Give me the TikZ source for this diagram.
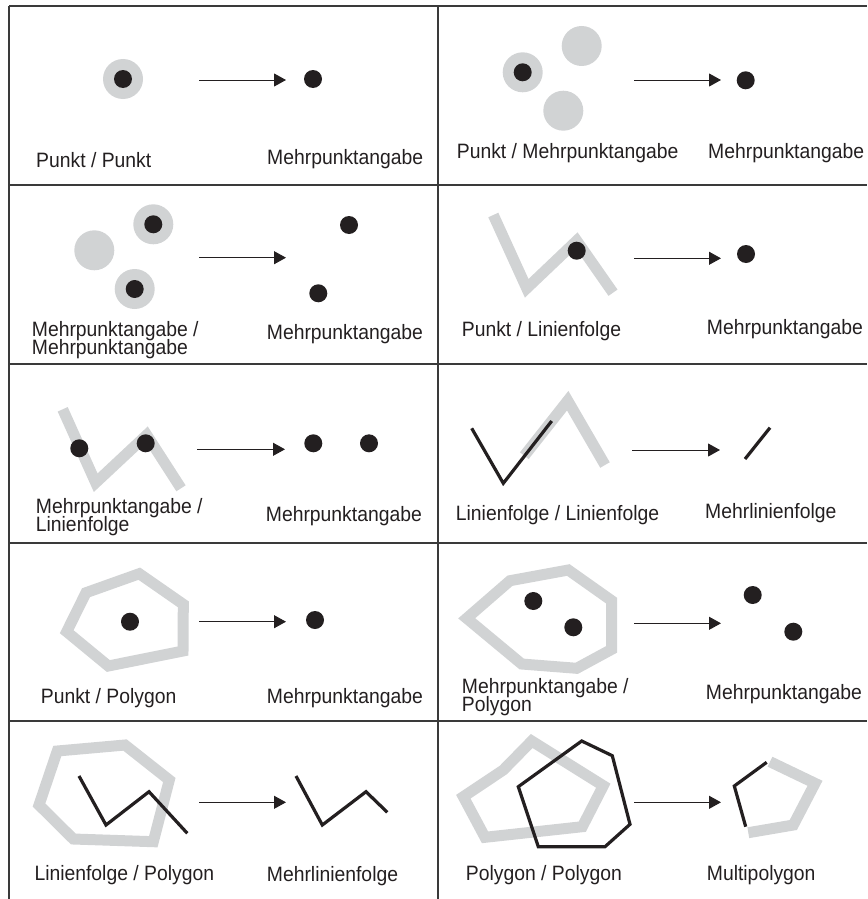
\documentclass[tikz,border=0pt]{standalone}
\usepackage{fontspec}
\setmainfont{Liberation Sans}
\newfontfamily\labfont[FakeStretch=0.93]{Liberation Sans}
\newcommand\tightlns{\lineskiplimit=-100pt\relax\lineskip=0pt\relax}
\usetikzlibrary{arrows.meta}
\definecolor{lgray}{HTML}{D1D3D4}
\definecolor{dk}{HTML}{231F20}
\definecolor{gridc}{HTML}{3A3A3A}
\begin{document}
\begin{tikzpicture}[x=1pt,y=-1pt,
 gridline/.style={draw=gridc, line width=1.4pt},
 dot/.style={circle,fill=dk,inner sep=0,minimum size=18pt},
 halo/.style={circle,fill=lgray,inner sep=0,minimum size=40pt},
 band/.style={draw=lgray,line width=11pt,line join=miter},
 blk/.style={draw=dk,line width=3.2pt,line join=miter},
 lab/.style={anchor=base west,inner sep=0,align=left,font=\labfont\fontsize{20.8}{17.8}\selectfont\tightlns,text=dk},
 arr/.style={draw=dk,line width=1pt,-{Triangle[length=12pt,width=13pt]}}]
\useasboundingbox (0,0) rectangle (867,899);
% grid
\coordinate (g1) at (9,6); \coordinate (g2) at (867,6);
\coordinate (g3) at (9,899); \coordinate (g4) at (438,6); \coordinate (g5) at (438,899);
\draw[gridline] (g1) -- (g2);
\draw[gridline] (g1) -- (g3);
\draw[gridline] (g4) -- (g5);
\foreach \yy in {185,364,543,721}{\draw[gridline] (9,\yy) -- (867,\yy);}

% ---- cell 1
\node[halo] (h1) at (123,79) {}; \node[dot] (d1) at (h1) {};
\coordinate (a1s) at (199,80); \coordinate (a1e) at (286,80); \draw[arr] (a1s) -- (a1e);
\node[dot] (r1) at (313,79) {};
\node[lab] (t1a) at (36,167) {Punkt / Punkt};
\node[lab] (t1b) at (267,164) {Mehrpunktangabe};

% ---- cell 2
\node[halo] (h2a) at (522.7,72.3) {}; \node[dot] (d2) at (h2a) {};
\node[halo] (h2b) at (581.7,46) {};
\node[halo] (h2c) at (563.3,110.7) {};
\coordinate (a2s) at (634,80); \coordinate (a2e) at (721,80); \draw[arr] (a2s) -- (a2e);
\node[dot] (r2) at (745.7,80.3) {};
\node[lab] (t2a) at (456.7,158) {Punkt / Mehrpunktangabe};
\node[lab] (t2b) at (708,158) {Mehrpunktangabe};

% ---- cell 3
\node[halo] (h3a) at (153.3,224.3) {}; \node[dot] (d3a) at (h3a) {};
\node[halo] (h3b) at (94.3,250.3) {};
\node[halo] (h3c) at (134.7,289) {}; \node[dot] (d3c) at (h3c) {};
\coordinate (a3s) at (199,257.7); \coordinate (a3e) at (286,257.7); \draw[arr] (a3s) -- (a3e);
\node[dot] (r3a) at (349,225) {};
\node[dot] (r3b) at (318.3,293.3) {};
\node[lab] (t3a) at (31.7,354) {Mehrpunktangabe /\\Mehrpunktangabe};
\node[lab] (t3c) at (266.7,339) {Mehrpunktangabe};

% ---- cell 4
\draw[band] (493.3,215) -- (526.7,288.3) -- (576.7,240.7) -- (613,292.7);
\node[dot] (d4) at (576.7,250.7) {};
\coordinate (a4s) at (634,258.3); \coordinate (a4e) at (721,258.3); \draw[arr] (a4s) -- (a4e);
\node[dot] (r4) at (746,254) {};
\node[lab] (t4a) at (461.7,336.7) {Punkt / Linienfolge};
\node[lab] (t4b) at (706.7,334) {Mehrpunktangabe};

% ---- cell 5
\draw[band] (62.7,409.3) -- (95.7,482.7) -- (146.7,435) -- (181,488.3);
\node[dot] (d5a) at (79.3,448.3) {};
\node[dot] (d5b) at (145.7,443.3) {};
\coordinate (a5s) at (197.3,449.3); \coordinate (a5e) at (285,449.3); \draw[arr] (a5s) -- (a5e);
\node[dot] (r5a) at (313.3,443.3) {};
\node[dot] (r5b) at (369,443.3) {};
\node[lab] (t5a) at (35.7,531) {Mehrpunktangabe /\\Linienfolge};
\node[lab] (t5c) at (265.7,521.7) {Mehrpunktangabe};

% ---- cell 6
\draw[band] (524.3,455.7) -- (567.7,400.7) -- (605,465);
\draw[blk] (471.7,428.3) -- (503.3,483.3) -- (551.7,421);
\coordinate (a6s) at (632.3,450); \coordinate (a6e) at (720,450); \draw[arr] (a6s) -- (a6e);
\draw[blk] (745,459) -- (770,427.7);
\node[lab] (t6a) at (455.7,520) {Linienfolge / Linienfolge};
\node[lab] (t6b) at (705,518.3) {Mehrlinienfolge};

% ---- cell 7
\draw[band] (66.7,631.7) -- (86,592.7) -- (139.3,573.7) -- (183.3,604.3) -- (183,651) -- (108.3,666) -- cycle;
\node[dot] (d7) at (130,621.7) {};
\coordinate (a7s) at (199,621.7); \coordinate (a7e) at (286,621.7); \draw[arr] (a7s) -- (a7e);
\node[dot] (r7) at (315,620) {};
\node[lab] (t7a) at (40.7,703.3) {Punkt / Polygon};
\node[lab] (t7b) at (266.7,703.3) {Mehrpunktangabe};

% ---- cell 8
\draw[band] (466.7,618.3) -- (510,580.7) -- (568.3,570) -- (611.7,600.7) -- (611.7,649.3) -- (576.7,668.3) -- (521.7,664) -- cycle;
\node[dot] (d8a) at (533.3,601) {};
\node[dot] (d8b) at (573.3,627.3) {};
\coordinate (a8s) at (634,623.3); \coordinate (a8e) at (721,623.3); \draw[arr] (a8s) -- (a8e);
\node[dot] (r8a) at (752.7,595) {};
\node[dot] (r8b) at (793.3,631.7) {};
\node[lab] (t8a) at (461.7,711.5) {Mehrpunktangabe /\\Polygon};
\node[lab] (t8c) at (705.7,699.3) {Mehrpunktangabe};

% ---- cell 9
\draw[band] (57.3,751) -- (125,745) -- (169.3,780) -- (153.3,841.7) -- (73.3,839) -- (39,805) -- cycle;
\draw[blk] (79,776) -- (106,825) -- (149,791.7) -- (187.3,833.3);
\coordinate (a9s) at (199,802.3); \coordinate (a9e) at (286,802.3); \draw[arr] (a9s) -- (a9e);
\draw[blk] (296,776) -- (322.3,825) -- (366,791.7) -- (387.3,812.3);
\node[lab] (t9a) at (34.3,880) {Linienfolge / Polygon};
\node[lab] (t9b) at (266.7,881.7) {Mehrlinienfolge};

% ---- cell 10
\draw[band] (463.3,796.7) -- (503.3,770) -- (531.7,741) -- (603.3,785.7) -- (582.3,826.7) -- (485,837.3) -- cycle;
\draw[blk] (581.7,741) -- (612.3,755.7) -- (630,824.3) -- (605,846.7) -- (538.3,846.7) -- (518.3,786.7) -- cycle;
\coordinate (a10s) at (634,802.3); \coordinate (a10e) at (721,802.3); \draw[arr] (a10s) -- (a10e);
\draw[band] (770,761.7) -- (815,783.3) -- (793.3,825) -- (748.3,832.7);
\draw[blk] (766.7,762.3) -- (734.3,786) -- (745.7,826.7);
\node[lab] (t10a) at (465.7,880) {Polygon / Polygon};
\node[lab] (t10b) at (706.7,880.7) {Multipolygon};
\end{tikzpicture}
\end{document}
